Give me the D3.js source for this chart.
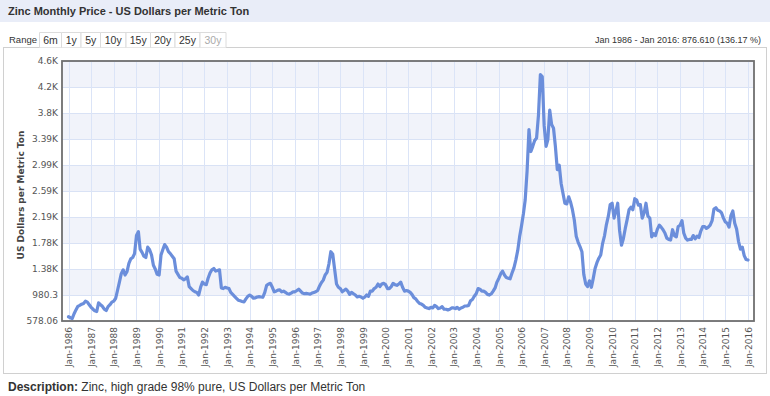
<!DOCTYPE html>
<html><head><meta charset="utf-8">
<script src="https://cdn.jsdelivr.net/npm/d3@7/dist/d3.min.js"></script>
<style>body{margin:0;background:#fff;} svg{display:block;}</style>
</head><body><svg id="c" width="770" height="396"></svg>
<script>
// ---------- DATA (monthly, starting Jan 1986) ----------
const startYear = 1986;
const prices1986_1995 = [
  644, 628, 615, 690, 750, 805, 820, 838, 850, 885, 870, 830,
  790, 760, 735, 725, 860, 830, 805, 760, 740, 800, 830, 870,
  885, 930, 1050, 1180, 1310, 1370, 1290, 1340, 1470, 1540, 1560, 1620,
  1900, 1960, 1690, 1640, 1580, 1560, 1720, 1680, 1600, 1440, 1380, 1300,
  1290, 1600, 1680, 1760, 1720, 1650, 1620, 1580, 1540, 1350, 1300, 1250,
  1240, 1215, 1230, 1260, 1110, 1080, 1050, 1030, 1020, 980, 1100, 1180,
  1150, 1140, 1240, 1320, 1370, 1390, 1350, 1360, 1370, 1090, 1080, 1100,
  1090, 1080, 1020, 990, 960, 930, 900, 890, 880, 875, 920, 960,
  980, 960, 930, 935, 950, 955, 950, 945, 1020, 1130, 1150, 1160,
  1100, 1030, 1040, 1055, 1060, 1030, 1040, 1020, 1000, 995, 1010, 1030
];
const prices1996_2005 = [
  1030, 1050, 1070, 1040, 1010, 1000, 1005, 1000, 995, 1010, 1020, 1030,
  1050, 1120, 1170, 1210, 1290, 1330, 1460, 1650, 1610, 1380, 1150, 1100,
  1080, 1030, 1050, 1070, 1040, 990, 1020, 1000, 980, 950, 960, 950,
  930, 950, 980, 960, 1040, 1040, 1080, 1100, 1150, 1110, 1150, 1160,
  1140, 1080, 1080, 1110, 1160, 1140, 1130, 1150, 1180, 1100, 1040, 1050,
  1040, 1020, 990, 940, 920, 880, 850, 840, 820, 790, 780, 770,
  790, 780, 820, 800, 770, 780, 800, 760, 760, 750, 760, 780,
  780, 770, 790, 760, 780, 790, 810, 810, 820, 890, 910, 960,
  1000, 1080, 1070, 1040, 1040, 1020, 990, 980, 1000, 1040, 1090, 1180,
  1240, 1310, 1350, 1290, 1250, 1240, 1230, 1320, 1400, 1520, 1670, 1880
];
const prices2006_2016 = [
  2050, 2240, 2450, 2900, 3540, 3200, 3280, 3370, 3410, 3760, 4390, 4360,
  3600, 3280, 3380, 3840, 3620, 3560, 3280, 2920, 2990, 2710, 2550, 2400,
  2390, 2500, 2420, 2300, 2140, 1890, 1800, 1730, 1650, 1300, 1150, 1110,
  1200, 1100, 1230, 1390, 1480, 1550, 1600, 1780, 1900, 2070, 2200, 2380,
  2400, 2170, 2270, 2400, 1980, 1750, 1850, 2010, 2150, 2300, 2340, 2300,
  2470, 2450, 2370, 2380, 2170, 2250, 2400, 2200, 2170, 1880, 1930, 1900,
  2000, 2060, 2030, 1990, 1940, 1860, 1840, 1830, 1990, 1900, 1880, 2040,
  2060, 2130, 1940, 1860, 1830, 1840, 1840, 1900, 1850, 1890, 1870, 1970,
  2040, 2040, 2010, 2030, 2060, 2130, 2310, 2330, 2290, 2280, 2250, 2170,
  2110, 2090, 2030, 2210, 2280, 2090, 2000, 1810, 1690, 1720, 1590, 1530,
  1520.37
];
const yTickValues = [578.06, 980.3, 1382.5, 1784.8, 2187.0, 2589.3, 2991.5, 3393.8, 3796.0, 4198.3, 4600.5];
const yTickLabels = ["578.06", "980.3", "1.38K", "1.78K", "2.19K", "2.59K", "2.99K", "3.39K", "3.8K", "4.2K", "4.6K"];
const xTickYears = d3.range(1986, 2017);
const rangeButtons = ["6m", "1y", "5y", "10y", "15y", "20y", "25y", "30y"];

const prices = prices1986_1995.concat(prices1996_2005, prices2006_2016);
const data = prices.map((v, i) => ({ date: new Date(startYear, i, 1), value: v }));

// ---------- LAYOUT ----------
const svg = d3.select("#c");
const plot = { left: 62, right: 754, top: 61, bottom: 321 };
const x = d3.scaleTime()
  .domain([new Date(1986, 0, 1), new Date(2016, 0, 1)])
  .range([68.5, 748]);
const y = d3.scaleLinear()
  .domain([yTickValues[0], yTickValues[yTickValues.length - 1]])
  .range([plot.bottom, plot.top]);

const sans = "'Liberation Sans', Arial, sans-serif";
const tickFont = "'DejaVu Sans', Verdana, sans-serif";

// title bar
svg.append("rect").attr("x", 0).attr("y", 0).attr("width", 770).attr("height", 22).attr("fill", "#e9edf8");
svg.append("text").attr("x", 8).attr("y", 15)
  .attr("font-family", sans).attr("font-size", 11).attr("font-weight", "bold").attr("fill", "#333")
  .text("Zinc Monthly Price - US Dollars per Metric Ton");

// container box
svg.append("rect").attr("x", 3.5).attr("y", 47.5).attr("width", 763).attr("height", 326)
  .attr("fill", "#fff").attr("stroke", "#d0d0d0");

// range selector
svg.append("text").attr("x", 9).attr("y", 43).attr("font-family", sans).attr("font-size", 9.5)
  .attr("fill", "#333").text("Range");
const btnEdges = [39.5, 61.5, 81, 100.5, 126, 150.5, 175, 200, 226];
const btnG = svg.append("g");
rangeButtons.forEach((b, i) => {
  const x0 = btnEdges[i], x1 = btnEdges[i + 1];
  btnG.append("path").attr("d", `M${x0},47.5V32.5H${x1}V47.5`).attr("fill", "#fff").attr("stroke", "#dcdcdc");
  btnG.append("text").attr("x", (x0 + x1) / 2).attr("y", 44).attr("text-anchor", "middle")
    .attr("font-family", sans).attr("font-size", 10.5).attr("fill", i === rangeButtons.length - 1 ? "#aaa" : "#333")
    .text(b);
});
svg.append("text").attr("x", 761).attr("y", 43).attr("text-anchor", "end")
  .attr("font-family", sans).attr("font-size", 9).attr("fill", "#333")
  .text("Jan 1986 - Jan 2016: 876.610 (136.17 %)");

// alternating bands
for (let i = 0; i < yTickValues.length - 1; i++) {
  if (i % 2 === 1) {
    svg.append("rect").attr("x", plot.left).attr("width", plot.right - plot.left)
      .attr("y", y(yTickValues[i + 1])).attr("height", y(yTickValues[i]) - y(yTickValues[i + 1]))
      .attr("fill", "#f1f3fa");
  }
}
// grid
svg.append("g").selectAll("line").data(yTickValues).join("line")
  .attr("x1", plot.left).attr("x2", plot.right)
  .attr("y1", d => Math.round(y(d)) + 0.5).attr("y2", d => Math.round(y(d)) + 0.5)
  .attr("stroke", "#d9e2f5");
svg.append("g").selectAll("line").data(xTickYears).join("line")
  .attr("x1", d => Math.round(x(new Date(d, 0, 1))) + 0.5).attr("x2", d => Math.round(x(new Date(d, 0, 1))) + 0.5)
  .attr("y1", plot.top).attr("y2", plot.bottom)
  .attr("stroke", "#dbe4f7");

// line
const line = d3.line().x(d => x(d.date)).y(d => y(d.value)).curve(d3.curveLinear);
svg.append("path").datum(data).attr("d", line)
  .attr("fill", "none").attr("stroke", "#6b8edb").attr("stroke-width", 3.2)
  .attr("stroke-linejoin", "round").attr("stroke-linecap", "round");

// frame
svg.append("rect").attr("x", plot.left).attr("y", plot.top)
  .attr("width", plot.right - plot.left).attr("height", plot.bottom - plot.top)
  .attr("fill", "none").attr("stroke", "#6f6f6f").attr("stroke-width", 1.8);

// y axis
const yAxis = svg.append("g").attr("transform", `translate(${plot.left},0)`)
  .call(d3.axisLeft(y).tickValues(yTickValues).tickFormat((d, i) => yTickLabels[i]).tickSize(0).tickPadding(4));
yAxis.select(".domain").remove();
yAxis.selectAll("text").attr("font-family", tickFont).attr("font-size", 9).attr("fill", "#555");

svg.append("text").attr("transform", "translate(24,195) rotate(-90)").attr("text-anchor", "middle")
  .attr("font-family", tickFont).attr("font-size", 9).attr("font-weight", "bold").attr("fill", "#444")
  .text("US Dollars per Metric Ton");

// x axis
const xAxis = svg.append("g").attr("transform", `translate(0,${plot.bottom})`)
  .call(d3.axisBottom(x).tickValues(xTickYears.map(yy => new Date(yy, 0, 1)))
    .tickFormat(d3.timeFormat("Jan-%Y")).tickSize(0));
xAxis.select(".domain").remove();
xAxis.selectAll("text")
  .attr("font-family", tickFont).attr("font-size", 9).attr("fill", "#555")
  .attr("text-anchor", "end").attr("transform", "rotate(-90)")
  .attr("x", -6).attr("y", 0).attr("dy", "0.35em");

// description
const desc = svg.append("text").attr("x", 8).attr("y", 391).attr("font-family", sans).attr("font-size", 12).attr("fill", "#333");
desc.append("tspan").attr("font-weight", "bold").text("Description:");
desc.append("tspan").text(" Zinc, high grade 98% pure, US Dollars per Metric Ton");
</script></body></html>
